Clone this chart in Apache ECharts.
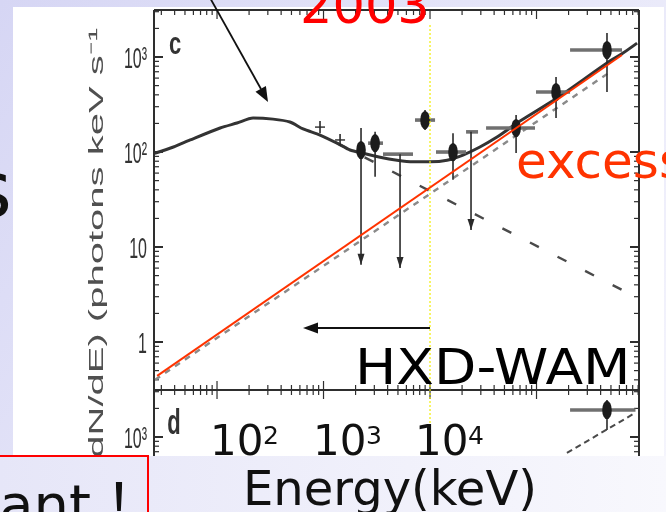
<!DOCTYPE html>
<html>
<head>
<meta charset="utf-8">
<script src="https://cdn.jsdelivr.net/npm/echarts@6/dist/echarts.min.js"></script>
<style>
  html, body { margin: 0; padding: 0; }
  #chart { width: 666px; height: 512px; }
</style>
</head>
<body>
<div id="chart"></div>
<script>
// ---- spectrum: total fitted model, E^2 dN/dE versus energy (keV) ----
const modelEnergy = [26, 39, 56, 107, 154, 218, 336, 484, 643, 927, 1340, 1775, 2350, 3400, 4900, 6920, 10000, 14450, 20400, 29400, 42600, 56400, 65600, 155600, 459000, 649000, 880000];
const modelFlux   = [97, 113, 134, 179, 202, 228, 222, 207, 175, 151, 124, 105, 97, 88, 82, 79, 79, 82, 93, 113, 144, 179, 202, 370, 865, 1100, 1400];

// Band component high-energy tail (dashed)
const bandEnergy = [1340, 755000];
const bandFlux   = [124, 3.2];

// additional power-law component (grey dashed)
const plEnergy = [26.2, 490000];
const plFlux   = [0.40, 695];

// hand-drawn power-law extension (red)
const fitEnergy = [27.4, 635000];
const fitFlux   = [0.44, 1050];

// measured points with error bars (kind: 0 point, 1 point whose lower bar reaches an arrow)
const ptEnergy = [2250, 3050, 8980, 16440, 64300, 152500, 459000];
const ptFlux   = [105, 124, 217, 100, 179, 428, 1185];
const ptELo    = [2250, 2620, 7230, 11380, 33600, 98900, 206600];
const ptEHi    = [2250, 3620, 11150, 21800, 96800, 206600, 635000];
const ptFLo    = [6.5, 55, 171, 51, 97.5, 228, 428];
const ptFHi    = [179, 163, 277, 158, 245, 615, 1790];
const ptKind   = [1, 0, 0, 0, 0, 0, 0];

// upper limits
const ulEnergy = [5230, 24270];
const ulFlux   = [95, 163];
const ulELo    = [3620, 21800];
const ulEHi    = [6920, 28250];
const ulArrow  = [6.0, 15.1];

// low-energy bins drawn as small crosses
const crEnergy = [927, 1430];
const crFlux   = [183, 134];
const crELo    = [832, 1284];
const crEHi    = [1033, 1593];
const crFLo    = [158, 116];
const crFHi    = [212, 155];

// lower panel (d)
const dEnergy = [459000];
const dFlux   = [1925];
const dELo    = [206600];
const dEHi    = [850000];
const dFLo    = [1185];
const dFHi    = [2450];
const dLineEnergy = [193000, 841000];
const dLineFlux   = [679, 1790];

// axes
const xDecades   = [10, 100, 1000, 10000, 100000];
const minorSteps = [2, 3, 4, 5, 6, 7, 8, 9];
const yDecadesC  = [0.1, 1, 10, 100, 1000];
const yMajorC    = [1, 10, 100, 1000];
const yLabelsC   = ['1', '10', '10²', '10³'];
const yDecadesD  = [100, 1000];
const yMajorD    = [1000];
const yLabelsD   = ['10³'];
const markEnergy = [10000];

// slide labels under the panel
const slideTickText = ['10', '10', '10'];
const slideTickExp  = ['2', '3', '4'];

const X_MIN = 25.6, X_MAX = 917000;
const INK = '#2e2e2e';
const SLIDE_FONT = '"DejaVu Sans", "Noto Sans CJK JP", "Liberation Sans", sans-serif';
const SCAN_FONT = '"Liberation Sans Narrow", "Liberation Sans", sans-serif';

function pairs(xs, ys) { return xs.map((x, i) => [x, ys[i]]); }

// frame, log ticks on all sides and y labels of one panel
function frameItem(o) {
  return function (params, api) {
    const cs = params.coordSys;
    const L = cs.x, T = cs.y, R = cs.x + cs.width, B = cs.y + cs.height;
    const kids = [];
    const seg = (x1, y1, x2, y2, w) => kids.push({
      type: 'line', shape: { x1, y1, x2, y2 },
      style: { stroke: INK, lineWidth: w || 1.2 }
    });
    // frame
    seg(L, T, L, B, 2); seg(R, T, R, B, 2);
    if (o.top) seg(L, T, R, T, 2.2);
    if (o.bottom) seg(L, B, R, B, 2);
    // x ticks
    xDecades.forEach(d => [1].concat(minorSteps).forEach(m => {
      const v = d * m;
      if (v <= X_MIN || v >= X_MAX) return;
      const px = api.coord([v, o.yRef])[0];
      const len = m === 1 ? 9 : 5;
      if (o.bottom) seg(px, B, px, B - len);
      if (o.top) seg(px, T, px, T + len);
    }));
    // y ticks
    o.yDec.forEach(d => [1].concat(minorSteps).forEach(m => {
      const v = d * m;
      const py = api.coord([o.xRef, v])[1];
      if (py <= T + 1 || py >= B - 1) return;
      const len = m === 1 ? 9 : 5;
      seg(L, py, L + len, py, m === 1 ? 2 : 1.2);
      seg(R, py, R - len, py, m === 1 ? 2 : 1.2);
    }));
    // y labels
    o.yMajor.forEach((v, i) => {
      const py = api.coord([o.xRef, v])[1];
      kids.push({
        type: 'text', x: L - 7, y: py + 3, scaleY: 1.9,
        style: {
          text: o.yLabels[i], fill: '#333', font: '16px ' + SCAN_FONT,
          textAlign: 'right', align: 'right', textVerticalAlign: 'middle', verticalAlign: 'middle'
        }
      });
    });
    return { type: 'group', children: kids };
  };
}

// points with error bars: kind 0 = marker, 1 = marker + downward arrow, 2 = upper limit, 3 = cross
function errorItem(params, api) {
  const E = api.value(0), F = api.value(1);
  const eLo = api.value(2), eHi = api.value(3), fLo = api.value(4), fHi = api.value(5);
  const kind = api.value(6);
  const c = api.coord([E, F]);
  const a = api.coord([eLo, F]), b = api.coord([eHi, F]);
  const lo = api.coord([E, fLo]), hi = api.coord([E, fHi]);
  const kids = [];
  if (b[0] - a[0] > 1) {
    kids.push({ type: 'line', shape: { x1: a[0], y1: a[1], x2: b[0], y2: b[1] },
      style: { stroke: kind === 3 ? '#3a3a3a' : '#707070', lineWidth: kind === 3 ? 1.5 : 3.6 } });
  }
  kids.push({ type: 'line', shape: { x1: hi[0], y1: hi[1], x2: lo[0], y2: lo[1] },
    style: { stroke: '#2a2a2a', lineWidth: 1.6 } });
  if (kind === 1 || kind === 2) {
    kids.push({ type: 'polygon', shape: { points: [[lo[0] - 3.5, lo[1] - 11], [lo[0] + 3.5, lo[1] - 11], [lo[0], lo[1]]] },
      style: { fill: '#2a2a2a' } });
  }
  if (kind === 0 || kind === 1) {
    kids.push({ type: 'circle', x: c[0], y: c[1], scaleY: 1.9, shape: { cx: 0, cy: 0, r: 4.8 },
      style: { fill: '#1c1c1c' } });
  }
  return { type: 'group', children: kids };
}

const pointData = ptEnergy.map((e, i) => [e, ptFlux[i], ptELo[i], ptEHi[i], ptFLo[i], ptFHi[i], ptKind[i]])
  .concat(ulEnergy.map((e, i) => [e, ulFlux[i], ulELo[i], ulEHi[i], ulArrow[i], ulFlux[i], 2]))
  .concat(crEnergy.map((e, i) => [e, crFlux[i], crELo[i], crEHi[i], crFLo[i], crFHi[i], 3]));
const dPointData = dEnergy.map((e, i) => [e, dFlux[i], dELo[i], dEHi[i], dFLo[i], dFHi[i], 0]);

function ta(o) { // text alignment helper
  o.align = o.textAlign; o.verticalAlign = o.textVerticalAlign; return o;
}

const slideTicks = [];
const slideTickX = [210, 313, 415];
slideTickText.forEach((t, i) => {
  slideTicks.push({ type: 'text', z: 40, x: slideTickX[i], y: 444,
    style: ta({ text: t, font: '42px ' + SLIDE_FONT, fill: '#111', textAlign: 'left', textVerticalAlign: 'middle' }) });
  slideTicks.push({ type: 'text', z: 40, x: slideTickX[i] + 53, y: 437,
    style: ta({ text: slideTickExp[i], font: '25px ' + SLIDE_FONT, fill: '#111', textAlign: 'left', textVerticalAlign: 'middle' }) });
});

const chart = echarts.init(document.getElementById('chart'), null, { renderer: 'canvas' });

chart.setOption({
  animation: false,
  backgroundColor: {
    type: 'linear', x: 0, y: 0, x2: 1, y2: 1,
    colorStops: [{ offset: 0, color: '#d6d6f4' }, { offset: 1, color: '#f6f6fd' }]
  },
  grid: [
    { left: 154, top: 10, width: 485, height: 380, show: false },
    { left: 154, top: 390, width: 485, height: 110, show: false }
  ],
  xAxis: [
    { type: 'log', gridIndex: 0, min: X_MIN, max: X_MAX, show: false },
    { type: 'log', gridIndex: 1, min: X_MIN, max: X_MAX, show: false }
  ],
  yAxis: [
    { type: 'log', gridIndex: 0, min: 0.3126, max: 3126, show: false },
    { type: 'log', gridIndex: 1, min: 217, max: 3126, show: false }
  ],
  graphic: [
    // white scanned-figure area
    { type: 'rect', z: 0, shape: { x: 13, y: 7, width: 651, height: 449 }, style: { fill: '#ffffff' } },
    // rotated y title
    { type: 'text', z: 1, x: 97, y: 28, rotation: Math.PI / 2, scaleX: 2.0,
      style: ta({ text: '(E²dN/dE) (photons keV s⁻¹', font: '20px "Liberation Sans", sans-serif', fill: '#505050',
        textAlign: 'right', textVerticalAlign: 'middle' }) },
    // panel letters
    { type: 'text', z: 5, x: 175, y: 46, scaleY: 1.4,
      style: ta({ text: 'c', font: 'bold 22px "Liberation Sans", sans-serif', fill: '#333', textAlign: 'center', textVerticalAlign: 'middle' }) },
    { type: 'text', z: 5, x: 174, y: 424, scaleY: 1.6,
      style: ta({ text: 'd', font: 'bold 22px "Liberation Sans", sans-serif', fill: '#333', textAlign: 'center', textVerticalAlign: 'middle' }) },
    // big letter on the left margin
    { type: 'text', z: 5, x: 12, y: 197,
      style: ta({ text: 's', font: '78px ' + SLIDE_FONT, fill: '#111', textAlign: 'right', textVerticalAlign: 'middle' }) },
    // annotation arrows
    { type: 'line', z: 30, shape: { x1: 209, y1: -4, x2: 261, y2: 89 }, style: { stroke: '#111', lineWidth: 1.8 } },
    { type: 'polygon', z: 30, shape: { points: [[268, 102], [265.9, 86.0], [255.5, 91.8]] }, style: { fill: '#111' } },
    { type: 'line', z: 30, shape: { x1: 430, y1: 328, x2: 316, y2: 328 }, style: { stroke: '#111', lineWidth: 2 } },
    { type: 'polygon', z: 30, shape: { points: [[303, 328], [318, 322.5], [318, 333.5]] }, style: { fill: '#111' } },
    // slide texts
    { type: 'text', z: 40, x: 300, y: 10,
      style: ta({ text: '2003', font: '51px ' + SLIDE_FONT, fill: '#ff0000', textAlign: 'left', textVerticalAlign: 'middle' }) },
    { type: 'text', z: 40, x: 516, y: 165,
      style: ta({ text: 'excess', font: '50px ' + SLIDE_FONT, fill: '#ff3300', textAlign: 'left', textVerticalAlign: 'middle' }) },
    { type: 'text', z: 40, x: 355, y: 371, scaleX: 1.1,
      style: ta({ text: 'HXD-WAM', font: '50px ' + SLIDE_FONT, fill: '#000', textAlign: 'left', textVerticalAlign: 'middle' }) },
    // bottom strip of the slide
    { type: 'rect', z: 60, shape: { x: 0, y: 456, width: 666, height: 56 },
      style: { fill: { type: 'linear', x: 0, y: 0, x2: 1, y2: 0, colorStops: [{ offset: 0, color: '#e6e6f8' }, { offset: 1, color: '#f8f8fd' }] } } },
    { type: 'rect', z: 62, shape: { x: -2, y: 456, width: 150, height: 70 }, style: { fill: 'none', stroke: '#ff0000', lineWidth: 2 } },
    { type: 'text', z: 63, x: 147, y: 509,
      style: ta({ text: 'Important！', font: '56px ' + SLIDE_FONT, fill: '#111', textAlign: 'right', textVerticalAlign: 'middle' }) },
    { type: 'text', z: 63, x: 243, y: 493,
      style: ta({ text: 'Energy(keV)', font: '48px ' + SLIDE_FONT, fill: '#111', textAlign: 'left', textVerticalAlign: 'middle' }) }
  ].concat(slideTicks),
  series: [
    { type: 'custom', name: 'frameC', xAxisIndex: 0, yAxisIndex: 0, z: 3, silent: true,
      data: [[1000, 1]],
      renderItem: frameItem({ top: true, bottom: true, yDec: yDecadesC, yMajor: yMajorC, yLabels: yLabelsC, xRef: X_MIN, yRef: 1 }) },
    { type: 'custom', name: 'frameD', xAxisIndex: 1, yAxisIndex: 1, z: 3, silent: true,
      data: [[1000, 1000]],
      renderItem: frameItem({ top: true, bottom: false, yDec: yDecadesD, yMajor: yMajorD, yLabels: yLabelsD, xRef: X_MIN, yRef: 1000 }) },
    { type: 'line', name: 'power law', xAxisIndex: 0, yAxisIndex: 0, z: 4, symbol: 'none',
      data: pairs(plEnergy, plFlux), lineStyle: { color: '#8a8a8a', width: 2.4, type: [6, 6] } },
    { type: 'line', name: 'Band', xAxisIndex: 0, yAxisIndex: 0, z: 4, symbol: 'none',
      data: pairs(bandEnergy, bandFlux), lineStyle: { color: '#4a4a4a', width: 2.4, type: [10, 21] } },
    { type: 'line', name: 'model', xAxisIndex: 0, yAxisIndex: 0, z: 5, symbol: 'none', smooth: 0.25,
      data: pairs(modelEnergy, modelFlux), lineStyle: { color: '#333333', width: 3 } },
    { type: 'custom', name: 'data', xAxisIndex: 0, yAxisIndex: 0, z: 6,
      data: pointData, renderItem: errorItem },
    { type: 'custom', name: '10 MeV', xAxisIndex: 0, yAxisIndex: 0, z: 7, silent: true,
      data: markEnergy.map(e => [e, 1]),
      renderItem: function (params, api) {
        const x = api.coord([api.value(0), 1])[0];
        return { type: 'line', shape: { x1: x, y1: 25, x2: x, y2: 424 },
          style: { stroke: '#f2ee00', lineWidth: 1.2, lineDash: [2, 2] } };
      } },
    { type: 'line', name: 'extension', xAxisIndex: 0, yAxisIndex: 0, z: 8, symbol: 'none',
      data: pairs(fitEnergy, fitFlux), lineStyle: { color: '#ff3300', width: 2 } },
    { type: 'line', name: 'panel d model', xAxisIndex: 1, yAxisIndex: 1, z: 4, symbol: 'none',
      data: pairs(dLineEnergy, dLineFlux), lineStyle: { color: '#4a4a4a', width: 2, type: [6, 4] } },
    { type: 'custom', name: 'panel d data', xAxisIndex: 1, yAxisIndex: 1, z: 6,
      data: dPointData, renderItem: errorItem }
  ]
});
</script>
</body>
</html>
